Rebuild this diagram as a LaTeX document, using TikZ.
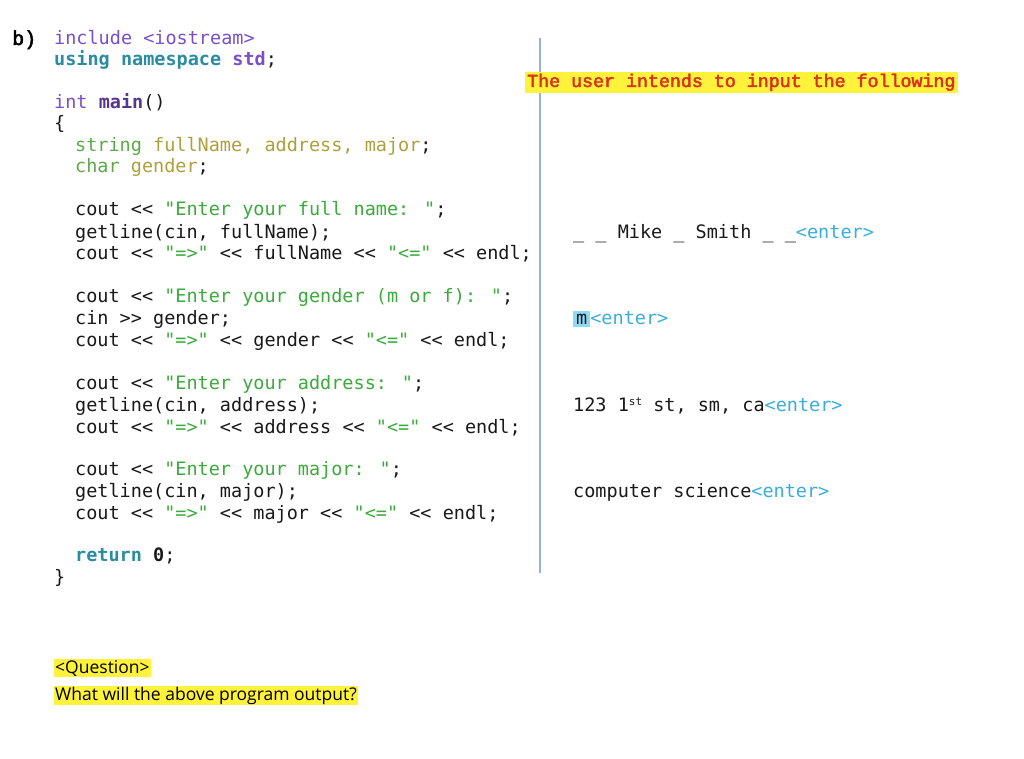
\documentclass[tikz,border=0pt]{standalone}
\usepackage{fontspec}
\setmainfont{Open Sans}
\newfontfamily\codef{DejaVu Sans Mono}
\newfontfamily\courb{Liberation Mono}[FakeBold=2.5]
\definecolor{kwp}{HTML}{7A4FC9}
\definecolor{kwt}{HTML}{2A8CA0}
\definecolor{kwg}{HTML}{5EAA48}
\definecolor{vol}{HTML}{ADA03C}
\definecolor{strg}{HTML}{3CAA3C}
\definecolor{enterc}{HTML}{3AAEDB}
\definecolor{hl}{HTML}{FFF23A}
\definecolor{titlered}{HTML}{D8321E}
\definecolor{vline}{HTML}{8FB4E0}
\begin{document}
\begin{tikzpicture}[x=1pt,y=-1pt,
  code/.style={anchor=base west,inner sep=0pt,text=black!90,font=\codef\fontsize{18.5}{20}\selectfont},
  inp/.style={code},
  ques/.style={anchor=base west,inner sep=1pt,fill=hl,font=\fontsize{17.5}{19}\selectfont}]
\useasboundingbox (0,0) rectangle (1024,759);
\draw[color=vline,line width=1.4pt] (540,38) coordinate (vt) -- (540,573) coordinate (vb);
\node[anchor=base west,inner sep=0pt,font=\courb\fontsize{20}{22}\selectfont] (b) at (12,45) {b)};
\node[code] (l1) at (54,45) {\textcolor{kwp}{include <iostream>}};
\node[code] (l2) at (54,66) {\textcolor{kwt}{\bfseries using namespace} \textcolor{kwp}{\bfseries std};};
\node[code] (l3) at (54,109) {\textcolor{kwp}{int} \textcolor{kwp!70!black}{\bfseries main}()};
\node[code] (l4) at (54,130) {\{};
\node[code] (l5) at (75,152) {\textcolor{kwg}{string} \textcolor{vol}{fullName, address, major};};
\node[code] (l6) at (75,173) {\textcolor{kwg}{char} \textcolor{vol}{gender};};
\node[code] (l7) at (75,216) {cout << \textcolor{strg}{"Enter your full name: "};};
\node[code] (l8) at (75,238) {getline(cin, fullName);};
\node[code] (l9) at (75,259) {cout << \textcolor{strg}{"=>"} << fullName << \textcolor{strg}{"<="} << endl;};
\node[code] (l10) at (75,302) {cout << \textcolor{strg}{"Enter your gender (m or f): "};};
\node[code] (l11) at (75,324) {cin >> gender;};
\node[code] (l12) at (75,346) {cout << \textcolor{strg}{"=>"} << gender << \textcolor{strg}{"<="} << endl;};
\node[code] (l13) at (75,389) {cout << \textcolor{strg}{"Enter your address: "};};
\node[code] (l14) at (75,411) {getline(cin, address);};
\node[code] (l15) at (75,433) {cout << \textcolor{strg}{"=>"} << address << \textcolor{strg}{"<="} << endl;};
\node[code] (l16) at (75,475) {cout << \textcolor{strg}{"Enter your major: "};};
\node[code] (l17) at (75,497) {getline(cin, major);};
\node[code] (l18) at (75,519) {cout << \textcolor{strg}{"=>"} << major << \textcolor{strg}{"<="} << endl;};
\node[code] (l19) at (75,561) {\textcolor{kwt}{\bfseries return} \textbf{0};};
\node[code] (l20) at (54,583) {\}};
\node[anchor=base west,inner sep=2pt,fill=hl,text=titlered,font=\courb\fontsize{18.3}{20}\selectfont] (title) at (525,87) {The user intends to input the following};
\node[inp] (i1) at (573,238) {\_ \_ Mike \_ Smith \_ \_\textcolor{enterc}{<enter>}};
\node[inp] (i2) at (573,324) {\colorbox{cyan!45}{\makebox[0pt][l]{m}\phantom{m}}\textcolor{enterc}{<enter>}};
\node[inp] (i3) at (573,411) {123 1\raisebox{6pt}{\fontsize{11}{12}\selectfont st} st, sm, ca\textcolor{enterc}{<enter>}};
\node[inp] (i4) at (573,497) {computer science\textcolor{enterc}{<enter>}};
\node[ques] (q1) at (54,673) {<Question>};
\node[ques] (q2) at (54,700) {What will the above program output?};
\end{tikzpicture}
\end{document}
